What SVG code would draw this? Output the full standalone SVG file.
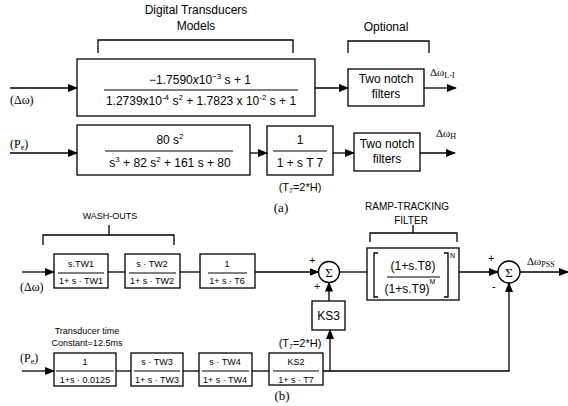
<svg xmlns="http://www.w3.org/2000/svg" width="568" height="406" viewBox="0 0 568 406">
<defs>
<marker id="ah" markerWidth="10" markerHeight="8" refX="9" refY="4" orient="auto" markerUnits="userSpaceOnUse">
<path d="M0,0 L10,4 L0,8 Z" fill="#000"/>
</marker>
<style>
text{font-family:"Liberation Sans",Arial,sans-serif;fill:#000}
.t{font-size:12px}
.f{font-size:11px}
.s{font-size:9px}
.g{font-family:"Liberation Serif","Times New Roman",serif}
.m{text-anchor:middle}
rect,circle{fill:#fff;stroke:#000;stroke-width:1.3}
.ln{fill:none;stroke:#000;stroke-width:1.3}
.fl{stroke:#000;stroke-width:1}
.w{stroke:#000;stroke-width:1.3;fill:none}
</style>
</defs>

<!-- Part (a) labels -->
<g id="labels-a">
<text class="t m" x="196" y="14">Digital Transducers</text>
<text class="t m" x="196" y="30">Models</text>
<path class="w" d="M98,53 V40 H293 V53"/>
<text class="t m" x="386" y="31">Optional</text>
<path class="w" d="M348,53 V41 H429 V53"/>
<text class="t g" x="10" y="104">(Δω)</text>
<text class="t g" x="10" y="148">(P<tspan font-size="8" dy="2">e</tspan><tspan dy="-2">)</tspan></text>
<text class="f g" x="430" y="76">Δω<tspan font-size="8" dy="2">L-I</tspan></text>
<text class="f g" x="436" y="137">Δω<tspan font-size="8" dy="2">H</tspan></text>
<text class="f m" x="300" y="191">(T<tspan font-size="7" dy="2">7</tspan><tspan dy="-2">=2*H)</tspan></text>
<text class="g m" style="font-size:13px" x="281" y="212">(a)</text>
</g>

<g id="tf1">
<rect x="77" y="59" width="238" height="57"/>
<text class="t m" x="200" y="84">−1.7590<tspan font-style="italic">x</tspan>10<tspan font-size="8" dy="-5">−3</tspan><tspan dy="5"> s + 1</tspan></text>
<line class="fl" x1="104" y1="90" x2="298" y2="90"/>
<text class="t m" x="201" y="105">1.2739x10<tspan font-size="8" dy="-5">-4</tspan><tspan dy="5"> s</tspan><tspan font-size="8" dy="-5">2</tspan><tspan dy="5">  + 1.7823 x 10</tspan><tspan font-size="8" dy="-5">-2</tspan><tspan dy="5"> s + 1</tspan></text>
</g>

<g id="notch1">
<rect x="348" y="69" width="76" height="37"/>
<text class="t m" x="386" y="83">Two notch</text>
<text class="t m" x="386" y="98">filters</text>
</g>

<g id="tf2">
<rect x="77" y="125" width="173" height="50"/>
<text class="t m" x="170" y="144">80 s<tspan font-size="8" dy="-5">2</tspan></text>
<line class="fl" x1="105" y1="151" x2="233" y2="151"/>
<text class="t m" x="170" y="167">s<tspan font-size="8" dy="-5">3</tspan><tspan dy="5"> + 82 s</tspan><tspan font-size="8" dy="-5">2</tspan><tspan dy="5"> + 161 s + 80</tspan></text>
</g>

<g id="tf3">
<rect x="267" y="126" width="66" height="49"/>
<text class="t m" x="300" y="144">1</text>
<line class="fl" x1="273" y1="151" x2="327" y2="151"/>
<text class="t m" x="300" y="167">1 + s T 7</text>
</g>

<g id="notch2">
<rect x="354" y="133" width="66" height="38"/>
<text class="t m" x="387" y="148">Two notch</text>
<text class="t m" x="387" y="163">filters</text>
</g>

<!-- Part (b) labels -->
<g id="labels-b">
<text class="s m" x="110" y="219">WASH-OUTS</text>
<path class="w" d="M43,245 V235 H174 V245 M109,235 V225"/>
<text class="m" style="font-size:10px" x="407" y="210">RAMP-TRACKING</text>
<text class="m" style="font-size:10px" x="411" y="224">FILTER</text>
<path class="w" d="M370,242 V233 H457 V242 M413,233 V225"/>
<text class="t g" x="20" y="291">(Δω)</text>
<text class="t g" x="20" y="362">(P<tspan font-size="8" dy="2">e</tspan><tspan dy="-2">)</tspan></text>
<text class="s m" x="87" y="334">Transducer time</text>
<text class="s m" x="87" y="346">Constant=12.5ms</text>
<text class="f m" x="300" y="347">(T<tspan font-size="7" dy="2">7</tspan><tspan dy="-2">=2*H)</tspan></text>
<text class="g m" style="font-size:13px" x="282" y="400">(b)</text>
<text class="f g" x="527" y="265">Δω<tspan font-size="8" dy="2">PSS</tspan></text>
<text class="f" x="309" y="264">+</text>
<text class="f" x="314" y="290">+</text>
<text class="f" x="488" y="262">+</text>
<text class="f" x="492" y="290">-</text>
</g>

<g id="tw1">
<rect x="54" y="254" width="54" height="34"/>
<text class="s m" x="81" y="267">s.TW1</text>
<line class="fl" x1="58" y1="273" x2="104" y2="273"/>
<text class="s m" x="81" y="284">1+ s · TW1</text>
</g>
<g id="tw2">
<rect x="125" y="254" width="55" height="34"/>
<text class="s m" x="152" y="267">s · TW2</text>
<line class="fl" x1="129" y1="273" x2="176" y2="273"/>
<text class="s m" x="152" y="284">1+ s · TW2</text>
</g>
<g id="t6">
<rect x="200" y="254" width="55" height="34"/>
<text class="s m" x="227" y="267">1</text>
<line class="fl" x1="208" y1="273" x2="247" y2="273"/>
<text class="s m" x="227" y="284">1+ s · T6</text>
</g>
<g id="sum1">
<circle cx="329" cy="272" r="10.5"/>
<text class="g m" style="font-size:13px" x="329" y="277">Σ</text>
</g>
<g id="ramp">
<rect x="367" y="248" width="92" height="52"/>
<path class="w" d="M378,253 H374 V297 H378 M444,253 H448 V297 H444"/>
<text class="t m" x="413" y="270">(1+s.T8)</text>
<line class="fl" x1="387" y1="277" x2="440" y2="277"/>
<text class="t m" x="410" y="293">(1+s.T9)<tspan font-size="7" dy="-9">M</tspan></text>
<text style="font-size:7px" x="450" y="258">N</text>
</g>
<g id="sum2">
<circle cx="509" cy="272" r="11"/>
<text class="g m" style="font-size:13px" x="509" y="277">Σ</text>
</g>
<g id="ks3">
<rect x="312" y="301" width="33" height="29"/>
<text class="t m" x="328.5" y="320">KS3</text>
</g>
<g id="pe">
<rect x="54" y="353" width="62" height="33"/>
<text class="s m" x="85" y="365">1</text>
<line class="fl" x1="56" y1="371" x2="114" y2="371"/>
<text class="s m" x="85" y="383">1+s · 0.0125</text>
</g>
<g id="tw3">
<rect x="131" y="353" width="52" height="33"/>
<text class="s m" x="157" y="365">s · TW3</text>
<line class="fl" x1="134" y1="371" x2="180" y2="371"/>
<text class="s m" x="157" y="383">1+ s · TW3</text>
</g>
<g id="tw4">
<rect x="199" y="353" width="53" height="33"/>
<text class="s m" x="225" y="365">s · TW4</text>
<line class="fl" x1="202" y1="371" x2="249" y2="371"/>
<text class="s m" x="225" y="383">1+ s · TW4</text>
</g>
<g id="ks2">
<rect x="269" y="353" width="54" height="32"/>
<text class="s m" x="296" y="365">KS2</text>
<line class="fl" x1="273" y1="371" x2="319" y2="371"/>
<text class="s m" x="296" y="383">1+ s · T7</text>
</g>

<g id="connectors">
<line class="ln" x1="10" y1="88" x2="77" y2="88" marker-end="url(#ah)"/>
<line class="ln" x1="315" y1="88" x2="348" y2="88" marker-end="url(#ah)"/>
<line class="ln" x1="424" y1="88" x2="456" y2="88" marker-end="url(#ah)"/>
<line class="ln" x1="10" y1="153" x2="77" y2="153" marker-end="url(#ah)"/>
<line class="ln" x1="250" y1="153" x2="267" y2="153" marker-end="url(#ah)"/>
<line class="ln" x1="333" y1="153" x2="354" y2="153" marker-end="url(#ah)"/>
<line class="ln" x1="420" y1="153" x2="455" y2="153" marker-end="url(#ah)"/>
<line class="ln" x1="22" y1="272" x2="54" y2="272" marker-end="url(#ah)"/>
<line class="ln" x1="108" y1="272" x2="125" y2="272"/>
<line class="ln" x1="180" y1="272" x2="200" y2="272"/>
<line class="ln" x1="255" y1="272" x2="318.5" y2="272" marker-end="url(#ah)"/>
<line class="ln" x1="339.5" y1="272" x2="367" y2="272"/>
<line class="ln" x1="459" y1="272" x2="498" y2="272" marker-end="url(#ah)"/>
<line class="ln" x1="520" y1="272" x2="568" y2="272" marker-end="url(#ah)"/>
<line class="ln" x1="329" y1="301" x2="329" y2="282.5" marker-end="url(#ah)"/>
<line class="ln" x1="22" y1="371" x2="54" y2="371" marker-end="url(#ah)"/>
<line class="ln" x1="116" y1="371" x2="131" y2="371"/>
<line class="ln" x1="183" y1="371" x2="199" y2="371"/>
<line class="ln" x1="252" y1="371" x2="269" y2="371"/>
<path class="ln" d="M323,371 H509 V283" marker-end="url(#ah)"/>
<line class="ln" x1="330" y1="371" x2="330" y2="330" marker-end="url(#ah)"/>
</g>
</svg>
